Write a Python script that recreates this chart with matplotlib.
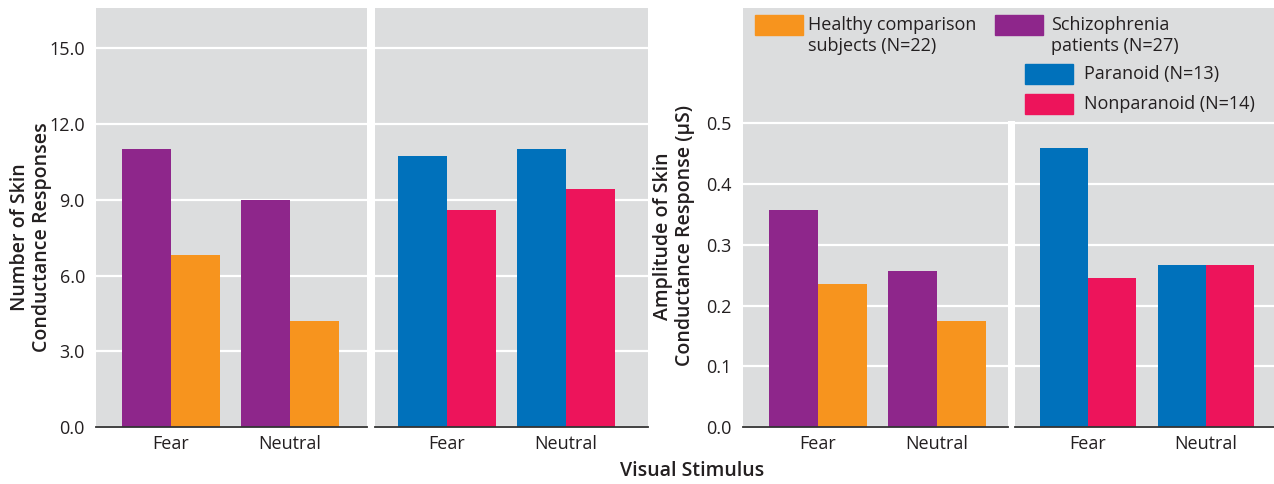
import matplotlib
matplotlib.use("Agg")
import matplotlib.pyplot as plt
import numpy as np
from matplotlib.patches import Rectangle

plt.rcParams['font.family'] = ['Open Sans', 'DejaVu Sans']

stimuli = ['Fear', 'Neutral']

# number of skin conductance responses
count_schizo = [11.0, 9.0]
count_healthy = [6.8, 4.2]
count_paranoid = [10.72, 11.0]
count_nonparanoid = [8.6, 9.42]

# amplitude of skin conductance response (uS)
amp_schizo = [0.358, 0.257]
amp_healthy = [0.236, 0.175]
amp_paranoid = [0.46, 0.267]
amp_nonparanoid = [0.246, 0.267]

left_ticks = [0.0, 3.0, 6.0, 9.0, 12.0, 15.0]
right_ticks = [0.0, 0.1, 0.2, 0.3, 0.4, 0.5]

c_schizo = '#8e268b'
c_healthy = '#f7941e'
c_paranoid = '#0071bb'
c_nonpar = '#ed145b'
bg = '#dcddde'
txt = '#231f20'

W, H = 1274, 484
fig = plt.figure(figsize=(W / 100, H / 100), dpi=100)


def box(x0, x1, y0, y1):
    # pixel box -> figure fraction
    return [x0 / W, 1 - y1 / H, (x1 - x0) / W, (y1 - y0) / H]


def panel(rect, a, b, ca, cb, ylim, ticks, xlim, show_y):
    ax = fig.add_axes(rect)
    ax.set_facecolor(bg)
    x = np.arange(len(stimuli))
    w = 0.41
    ax.bar(x - w / 2, a, w, color=ca, zorder=3)
    ax.bar(x + w / 2, b, w, color=cb, zorder=3)
    ax.set_xlim(*xlim)
    ax.set_ylim(*ylim)
    ax.set_yticks(ticks)
    ax.yaxis.grid(True, color='white', linewidth=1.6, zorder=1)
    ax.set_axisbelow(True)
    ax.set_xticks(x)
    ax.set_xticklabels(stimuli, fontsize=13, color=txt)
    if show_y:
        ax.set_yticklabels(['{:.1f}'.format(t) for t in ticks], fontsize=13, color=txt)
    else:
        ax.set_yticklabels([])
    ax.tick_params(length=0, pad=6)
    ax.tick_params(axis='y', pad=8)
    for s in ['top', 'right', 'left']:
        ax.spines[s].set_visible(False)
    ax.spines['bottom'].set_color('#333333')
    ax.spines['bottom'].set_linewidth(1.3)
    ax.spines['bottom'].set_zorder(4)
    return ax


panel(box(96, 367, 8, 427), count_schizo, count_healthy, c_schizo, c_healthy,
      (0, 16.6), left_ticks, (-0.63, 1.647), True)
panel(box(375, 648, 8, 427), count_paranoid, count_nonparanoid, c_paranoid, c_nonpar,
      (0, 16.6), left_ticks, (-0.605, 1.689), False)
panel(box(743, 1008, 121, 427), amp_schizo, amp_healthy, c_schizo, c_healthy,
      (0, 0.504), right_ticks, (-0.63, 1.597), True)
panel(box(1015, 1274, 121, 427), amp_paranoid, amp_nonparanoid, c_paranoid, c_nonpar,
      (0, 0.504), right_ticks, (-0.619, 1.576), False)

# legend block
lg = fig.add_axes(box(743, 1274, 8, 121))
lg.set_facecolor(bg)
lg.set_xticks([])
lg.set_yticks([])
for s in lg.spines.values():
    s.set_visible(False)
lg.set_xlim(0, 1)
lg.set_ylim(0, 1)
pw, ph = 48 / 531, 20 / 113
entries = [
    (0.0226, 0.761, c_healthy, 0.1224, 'Healthy comparison\nsubjects (N=22)'),
    (0.4746, 0.761, c_schizo, 0.580, 'Schizophrenia\npatients (N=27)'),
    (0.531, 0.327, c_paranoid, 0.642, 'Paranoid (N=13)'),
    (0.531, 0.062, c_nonpar, 0.642, 'Nonparanoid (N=14)'),
]
for px, py, col, tx, label in entries:
    lg.add_patch(Rectangle((px, py), pw, ph, color=col, transform=lg.transAxes))
    multi = '\n' in label
    lg.text(tx, py + ph / 2 + (0.08 if multi else 0.0), label,
            fontsize=13, color=txt, va='top' if multi else 'center',
            ha='left', transform=lg.transAxes, linespacing=1.25)

fig.text(31 / W, 1 - 237 / H, 'Number of Skin\nConductance Responses', rotation=90,
         ha='center', va='center', multialignment='center', fontsize=14,
         fontweight='semibold', color=txt, linespacing=1.15)
fig.text(674 / W, 1 - 236 / H, 'Amplitude of Skin\nConductance Response (\u03bcS)', rotation=90,
         ha='center', va='center', multialignment='center', fontsize=14,
         fontweight='semibold', color=txt, linespacing=1.15)
fig.text(692 / W, 1 - 471 / H, 'Visual Stimulus', ha='center', va='center',
         fontsize=14, fontweight='semibold', color=txt)

fig.savefig('out.png', dpi=100)
